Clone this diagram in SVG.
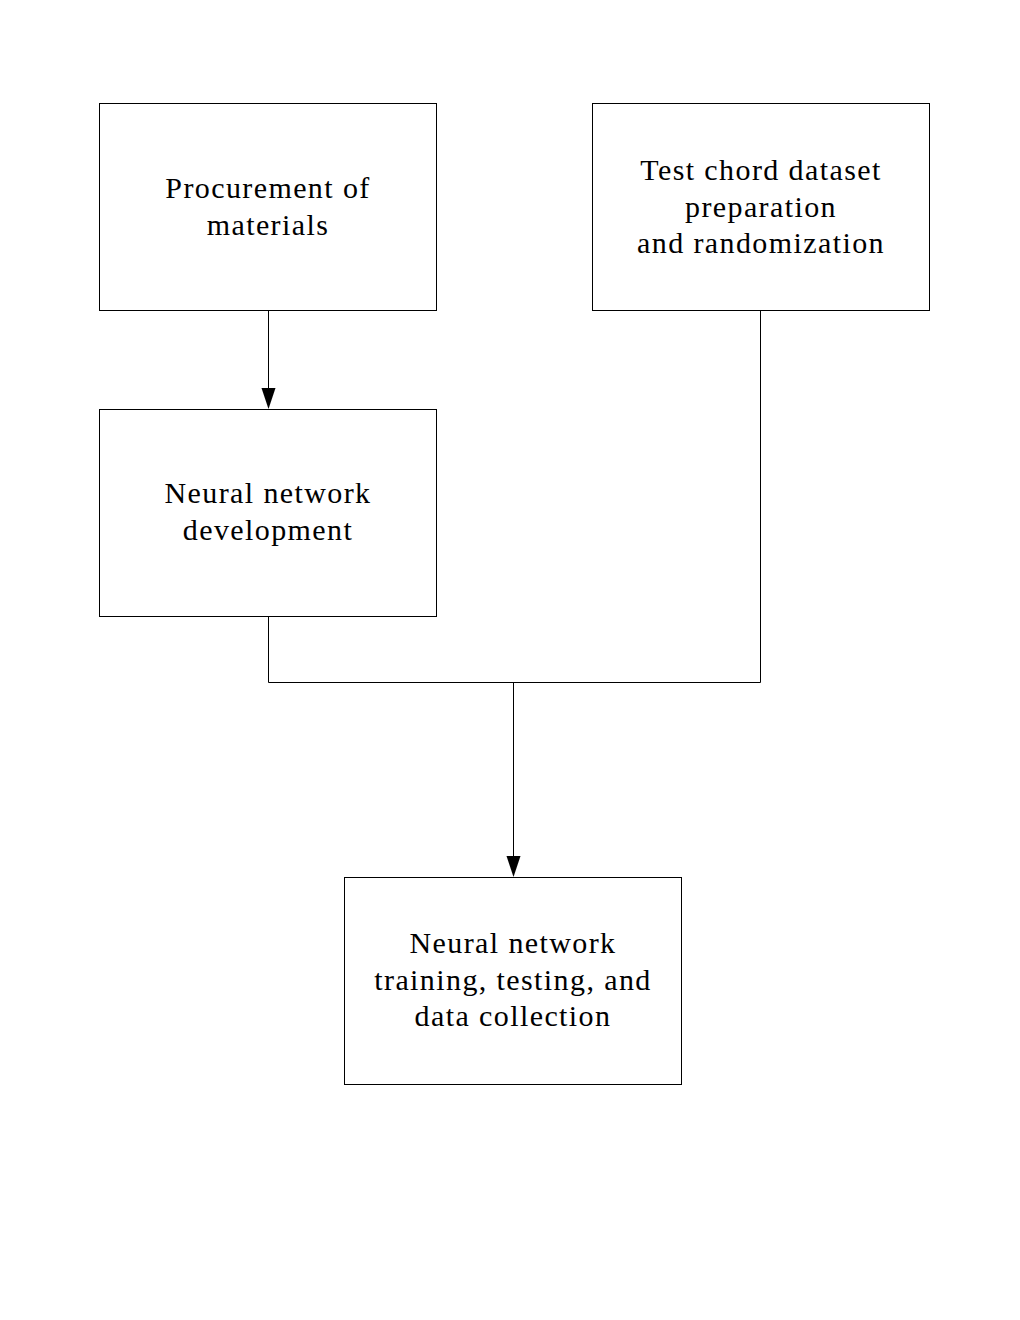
<svg xmlns="http://www.w3.org/2000/svg" width="1020" height="1320" viewBox="0 0 1020 1320">
<style>
.box{fill:#fff;stroke:#000;stroke-width:1}
.t{font-family:"Liberation Serif","Times New Roman",serif;font-size:30px;letter-spacing:1.4px;text-anchor:middle;fill:#000}
.c{fill:none;stroke:#000;stroke-width:1}
.ah{fill:#000}
</style>
<rect width="1020" height="1320" fill="#fff"/>
<g id="connectors">
<path class="c" d="M268.5,310.5 V388"/>
<path class="ah" d="M261.5,388 L275.5,388 L268.5,409 Z"/>
<path class="c" d="M268.5,616.5 V682.5 H760.5 V310.5"/>
<path class="c" d="M513.5,682.5 V856"/>
<path class="ah" d="M506.5,856 L520.5,856 L513.5,877 Z"/>
</g>
<g id="node1">
<rect class="box" x="99.5" y="103.5" width="337" height="207"/>
<text class="t" x="268" y="198">Procurement of</text>
<text class="t" x="268" y="235">materials</text>
</g>
<g id="node2">
<rect class="box" x="592.5" y="103.5" width="337" height="207"/>
<text class="t" x="761" y="180">Test chord dataset</text>
<text class="t" x="761" y="217">preparation</text>
<text class="t" x="761" y="253">and randomization</text>
</g>
<g id="node3">
<rect class="box" x="99.5" y="409.5" width="337" height="207"/>
<text class="t" x="268" y="503">Neural network</text>
<text class="t" x="268" y="540">development</text>
</g>
<g id="node4">
<rect class="box" x="344.5" y="877.5" width="337" height="207"/>
<text class="t" x="513" y="953">Neural network</text>
<text class="t" x="513" y="990">training, testing, and</text>
<text class="t" x="513" y="1026">data collection</text>
</g>
</svg>
